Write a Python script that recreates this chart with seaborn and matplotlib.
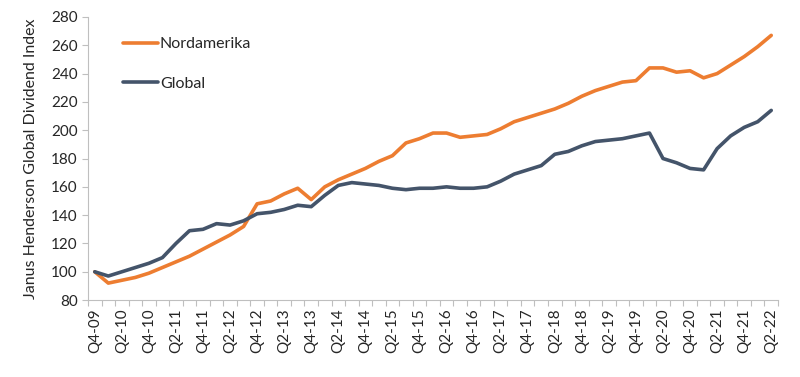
import numpy as np
import pandas as pd
import seaborn as sns
import matplotlib.pyplot as plt
from matplotlib.ticker import FixedLocator

# ===== Daten =====
quarters = []
for year in range(2009, 2023):
    for q in range(1, 5):
        if (year == 2009 and q < 4) or (year == 2022 and q > 2):
            continue
        quarters.append(f"Q{q}-{str(year)[2:]}")

nordamerika = [100, 92, 94, 96, 99, 103, 107, 111, 116, 121, 126, 132,
               148, 150, 155, 159, 151, 160, 165, 169, 173, 178, 182, 191,
               194, 198, 198, 195, 196, 197, 201, 206, 209, 212, 215, 219,
               224, 228, 231, 234, 235, 244, 244, 241, 242, 237, 240, 246,
               252, 259, 267]
global_idx = [100, 97, 100, 103, 106, 110, 120, 129, 130, 134, 133, 136,
              141, 142, 144, 147, 146, 154, 161, 163, 162, 161, 159, 158,
              159, 159, 160, 159, 159, 160, 164, 169, 172, 175, 183, 185,
              189, 192, 193, 194, 196, 198, 180, 177, 173, 172, 187, 196,
              202, 206, 214]

df = pd.DataFrame({
    "pos": list(range(len(quarters))) * 2,
    "Index": nordamerika + global_idx,
    "Serie": ["Nordamerika"] * len(quarters) + ["Global"] * len(quarters),
})

# ===== Stil =====
sns.set_style("white")
plt.rcParams["font.family"] = ["Lato", "DejaVu Sans"]

fig = plt.figure(figsize=(8, 3.77), dpi=100)
ax = fig.add_axes([0.11, 0.204, 0.8625, 0.751])

sns.lineplot(data=df, x="pos", y="Index", hue="Serie",
             palette={"Nordamerika": "#ED7D31", "Global": "#44546A"},
             linewidth=2.6, ax=ax)

# x-Achse: Kategorien, Ticks zwischen den Kategorien
n = len(quarters)
ax.set_xlim(-0.5, n - 0.5)
ax.set_xticks(range(0, n, 2))
ax.set_xticklabels(quarters[::2], rotation=90, fontsize=11, color="#262626")
ax.xaxis.set_minor_locator(FixedLocator(np.arange(-0.5, n, 1)))
ax.tick_params(axis="x", which="major", length=0, pad=6)
ax.tick_params(axis="x", which="minor", length=4, width=0.8, color="#BFBFBF",
               direction="out", bottom=True)

# y-Achse
ax.set_ylim(80, 280)
ax.set_yticks(range(80, 281, 20))
ax.tick_params(axis="y", length=4, width=0.8, color="#BFBFBF", direction="out",
               labelsize=11, labelcolor="#262626", left=True)
ax.set_ylabel("Janus Henderson Global Dividend Index", fontsize=11.5,
              color="#262626", labelpad=9)
ax.set_xlabel("")

for side in ["top", "right"]:
    ax.spines[side].set_visible(False)
for side in ["left", "bottom"]:
    ax.spines[side].set_color("#BFBFBF")
    ax.spines[side].set_linewidth(0.8)

leg = ax.legend(loc="upper left", bbox_to_anchor=(0.03, 0.98), frameon=False,
                fontsize=11.5, handlelength=2.2, handletextpad=0.1,
                labelspacing=1.6)
for line in leg.get_lines():
    line.set_linewidth(2.6)
for t in leg.get_texts():
    t.set_color("#262626")

plt.savefig("out.png", dpi=100)
